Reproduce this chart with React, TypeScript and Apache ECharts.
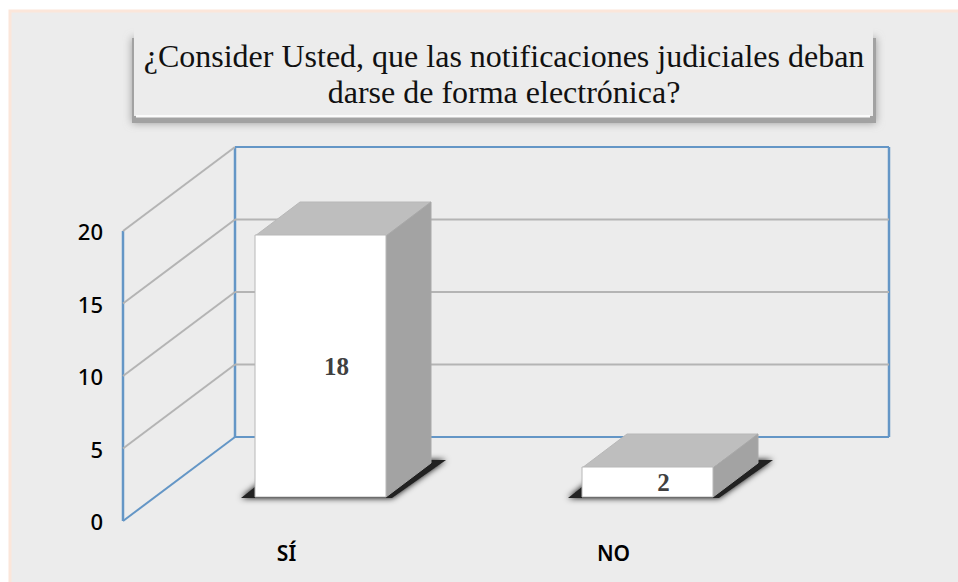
import React, { useEffect, useRef } from "react";
import * as echarts from "echarts";

const categories = ["SÍ", "NO"];
const values = [18, 2];
const yTicks = [0, 5, 10, 15, 20];
const titleLines = ["¿Consider Usted, que las notificaciones judiciales deban", "darse de forma electrónica?"];

const WALL_DX = 112;
const WALL_DY = -84;
const BAR_SHIFT_X = 34;
const BAR_SHIFT_Y = -24;
const BAR_W = 131;
const BAR_DX = 45;
const BAR_DY = -34;
const BLUE = "#6496c6";
const GRID_GRAY = "#b4b4b4";

function renderWall(params: any, api: any) {
  const tick = api.value(0);
  const cs = params.coordSys;
  const front = api.coord([0, tick]);
  const xF = cs.x;
  const yF = front[1];
  const xB = xF + WALL_DX;
  const yB = yF + WALL_DY;
  const xR = xB + cs.width;
  const isBottom = tick === yTicks[0];
  const isTop = tick === yTicks[yTicks.length - 1];
  const line = (x1: number, y1: number, x2: number, y2: number, stroke: string, lineWidth = 2) => ({
    type: "line",
    shape: { x1, y1, x2, y2 },
    style: { stroke, lineWidth, fill: "none" },
  });
  const edge = isBottom || isTop ? BLUE : GRID_GRAY;
  const children: any[] = [
    line(xF, yF, xB, yB, isBottom ? BLUE : GRID_GRAY, 2),
    line(xB, yB, xR, yB, edge, 2),
  ];
  if (isBottom) {
    const top = api.coord([0, yTicks[yTicks.length - 1]])[1];
    children.push(line(xF, yF, xF, top, BLUE, 2.5));
    children.push(line(xB, yB, xB, top + WALL_DY, BLUE, 2.5));
    children.push(line(xR, yB, xR, top + WALL_DY, BLUE, 2.5));
  }
  return { type: "group", children };
}

function renderBar(params: any, api: any) {
  const idx = api.value(0);
  const val = api.value(1);
  const p0 = api.coord([idx, 0]);
  const p1 = api.coord([idx, val]);
  const x0 = p0[0] + BAR_SHIFT_X - BAR_W / 2;
  const x1 = x0 + BAR_W;
  const yb = p0[1] + BAR_SHIFT_Y;
  const yt = p1[1] + BAR_SHIFT_Y;
  const edge = "#b8b8b8";
  return {
    type: "group",
    children: [
      {
        type: "polygon",
        shape: { points: [[x0 - 14, yb + 1], [x0 + 34, yb - 37], [x0 + 191, yb - 37], [x1 + 6, yb + 1]] },
        style: { fill: "#222222", shadowBlur: 6, shadowColor: "#000000" },
      },
      {
        type: "polygon",
        shape: { points: [[x0, yt], [x0 + BAR_DX, yt + BAR_DY], [x1 + BAR_DX, yt + BAR_DY], [x1, yt]] },
        style: { fill: "#bebebe", stroke: edge, lineWidth: 1 },
      },
      {
        type: "polygon",
        shape: { points: [[x1, yt], [x1 + BAR_DX, yt + BAR_DY], [x1 + BAR_DX, yb + BAR_DY], [x1, yb]] },
        style: { fill: "#a3a3a3", stroke: "#a8a8a8", lineWidth: 1 },
      },
      {
        type: "rect",
        shape: { x: x0, y: yt - 1, width: BAR_W, height: yb - yt + 1 },
        style: { fill: "#ffffff", stroke: edge, lineWidth: 1 },
      },
      {
        type: "text",
        style: {
          x: (x0 + x1) / 2 + 16,
          y: (yt + yb) / 2,
          text: String(val),
          fill: "#404040",
          font: 'bold 25px "Liberation Serif"',
          align: "center",
          verticalAlign: "middle",
        },
      },
    ],
  };
}

export default function App() {
  const ref = useRef<HTMLDivElement>(null);
  useEffect(() => {
    if (!ref.current) return;
    const chart = echarts.init(ref.current, undefined, { renderer: "svg", width: 958, height: 582 });
    chart.setOption({
      animation: false,
      backgroundColor: "#ffffff",
      title: {
        text: titleLines.join("\n"),
        left: 499,
        top: 33,
        textAlign: "center",
        textStyle: {
          fontFamily: "Liberation Serif",
          fontSize: 32,
          fontWeight: "normal",
          color: "#111111",
          lineHeight: 36,
        },
      },
      grid: { left: 123, top: 231, width: 654, height: 290 },
      xAxis: {
        type: "category",
        data: categories,
        axisLine: { show: false },
        axisTick: { show: false },
        axisLabel: {
          margin: 21,
          fontFamily: "Noto Sans",
          fontSize: 21,
          fontWeight: 600,
          color: "#000000",
        },
      },
      yAxis: {
        type: "value",
        min: 0,
        max: 20,
        interval: 5,
        axisLine: { show: false },
        axisTick: { show: false },
        splitLine: { show: false },
        axisLabel: {
          margin: 20,
          fontFamily: "Noto Sans",
          fontSize: 22,
          fontWeight: 500,
          color: "#000000",
        },
      },
      graphic: [
        { type: "rect", z: 0, shape: { x: 10, y: 11, width: 950, height: 575 }, style: { fill: "#ececec", stroke: "#fbe6da", lineWidth: 3 } },
        { type: "rect", z: 0, shape: { x: 132, y: 38, width: 744, height: 85 }, style: { fill: "#a2a2a2", shadowBlur: 8, shadowColor: "#999999" } },
        { type: "rect", z: 0, shape: { x: 134, y: 26, width: 739, height: 90 }, style: { fill: "#ececec" } },
        { type: "rect", z: 0, shape: { x: 136, y: 115, width: 734, height: 2.5 }, style: { fill: "#fbfbfb" } },
      ],
      series: [
        {
          type: "custom",
          name: "walls",
          z: 1,
          silent: true,
          coordinateSystem: "cartesian2d",
          data: yTicks.map((t) => [t]),
          encode: { y: 0 },
          renderItem: renderWall,
          clip: false,
        },
        {
          type: "custom",
          name: "bars",
          z: 3,
          coordinateSystem: "cartesian2d",
          data: values.map((v, i) => [i, v]),
          encode: { x: 0, y: 1 },
          renderItem: renderBar,
          clip: false,
        },
      ],
    });
    return () => chart.dispose();
  }, []);
  return <div ref={ref} style={{ position: "absolute", left: 0, top: 0, width: 958, height: 582, overflow: "hidden" }} />;
}
